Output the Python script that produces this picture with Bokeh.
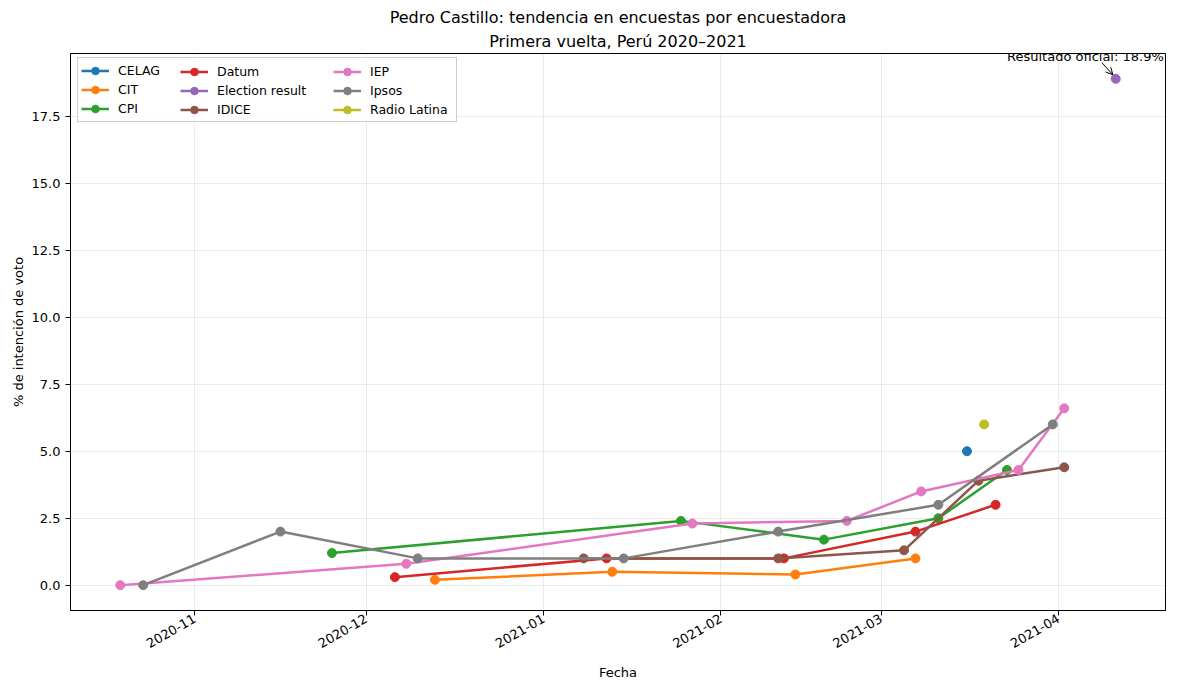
import datetime as dt
from bokeh.plotting import figure
from bokeh.models import (Range1d, Legend, LegendItem, DatetimeTickFormatter, MonthsTicker, Title,
                          SingleIntervalTicker, NumeralTickFormatter, Label, Arrow, OpenHead)
from bokeh.embed import file_html
from bokeh.resources import INLINE

D = dt.datetime

pollsters = ["CELAG", "CIT", "CPI", "Datum", "Election result", "IDICE", "IEP", "Ipsos", "Radio Latina"]
colors = ["#1f77b4", "#ff7f0e", "#2ca02c", "#d62728", "#9467bd", "#8c564b", "#e377c2", "#7f7f7f", "#bcbd22"]

celag_dates = [D(2021, 3, 16)]
celag_vals = [5.0]
cit_dates = [D(2020, 12, 13), D(2021, 1, 13), D(2021, 2, 14), D(2021, 3, 7)]
cit_vals = [0.2, 0.5, 0.4, 1.0]
cpi_dates = [D(2020, 11, 25), D(2021, 1, 25), D(2021, 2, 19), D(2021, 3, 11), D(2021, 3, 23)]
cpi_vals = [1.2, 2.4, 1.7, 2.5, 4.3]
datum_dates = [D(2020, 12, 6), D(2021, 1, 12), D(2021, 2, 12), D(2021, 3, 7), D(2021, 3, 21)]
datum_vals = [0.3, 1.0, 1.0, 2.0, 3.0]
election_dates = [D(2021, 4, 11)]
election_vals = [18.9]
idice_dates = [D(2021, 1, 8), D(2021, 2, 11), D(2021, 3, 5), D(2021, 3, 18), D(2021, 4, 2)]
idice_vals = [1.0, 1.0, 1.3, 3.9, 4.4]
iep_dates = [D(2020, 10, 19), D(2020, 12, 8), D(2021, 1, 27), D(2021, 2, 23), D(2021, 3, 8),
             D(2021, 3, 25), D(2021, 4, 2)]
iep_vals = [0.0, 0.8, 2.3, 2.4, 3.5, 4.3, 6.6]
ipsos_dates = [D(2020, 10, 23), D(2020, 11, 16), D(2020, 12, 10), D(2021, 1, 15), D(2021, 2, 11),
               D(2021, 3, 11), D(2021, 3, 31)]
ipsos_vals = [0.0, 2.0, 1.0, 1.0, 2.0, 3.0, 6.0]
radio_dates = [D(2021, 3, 19)]
radio_vals = [6.0]

series = [
    (celag_dates, celag_vals), (cit_dates, cit_vals), (cpi_dates, cpi_vals),
    (datum_dates, datum_vals), (election_dates, election_vals), (idice_dates, idice_vals),
    (iep_dates, iep_vals), (ipsos_dates, ipsos_vals), (radio_dates, radio_vals),
]

annot_text = "Resultado oficial: 18.9%"
title_line1 = "Pedro Castillo: tendencia en encuestas por encuestadora"
title_line2 = "Primera vuelta, Perú 2020\u20132021"

all_dates = [d for ds, _ in series for d in ds]
dmin, dmax = min(all_dates), max(all_dates)
span = dmax - dmin
all_vals = [v for _, vs in series for v in vs]
vmin, vmax = min(all_vals), max(all_vals)
vspan = vmax - vmin

FONT = "DejaVu Sans"
FRAME_W, FRAME_H = 1095, 557

p = figure(frame_width=FRAME_W, frame_height=FRAME_H, x_axis_type="datetime", output_backend="svg",
           toolbar_location=None,
           x_range=Range1d(dmin - span * 0.05, dmax + span * 0.05),
           y_range=Range1d(vmin - vspan * 0.05, vmax + vspan * 0.05),
           min_border_left=70, min_border_right=17, min_border_top=53, min_border_bottom=76)

p.title.text = title_line1
p.title.align = "center"
p.title.text_font = FONT
p.title.text_font_size = "16px"
p.title.text_font_style = "normal"
p.title.text_color = "black"
p.title.standoff = 1
p.add_layout(Title(text=title_line2, align="center", text_font=FONT, text_font_size="16px",
                   text_font_style="normal", text_color="black", standoff=5), "above")

p.outline_line_color = "black"
p.outline_line_width = 1
p.outline_line_alpha = 1

for ax in (p.xaxis[0], p.yaxis[0]):
    ax.axis_line_color = "black"
    ax.major_tick_line_color = "black"
    ax.major_tick_out = 5
    ax.major_tick_in = 0
    ax.minor_tick_line_color = None
    ax.major_label_text_font = FONT
    ax.major_label_text_font_size = "13px"
    ax.major_label_text_color = "black"
    ax.axis_label_text_font = FONT
    ax.axis_label_text_font_size = "13px"
    ax.axis_label_text_font_style = "normal"
    ax.axis_label_text_color = "black"

p.xaxis.ticker = MonthsTicker(months=list(range(1, 13)))
p.xaxis.formatter = DatetimeTickFormatter(months="%Y-%m", days="%Y-%m", years="%Y-%m")
p.xaxis.major_label_orientation = 0.5236
p.xaxis.major_label_standoff = 2
p.xaxis.axis_label_standoff = 10
p.xaxis.axis_label = "Fecha"
p.yaxis.ticker = SingleIntervalTicker(interval=2.5)
p.yaxis.formatter = NumeralTickFormatter(format="0.0")
p.yaxis.axis_label = "% de intención de voto"
p.yaxis.axis_label_standoff = 3

p.grid.grid_line_color = "#b0b0b0"
p.grid.grid_line_alpha = 0.3
p.grid.grid_line_width = 0.8

items = []
for name, col, (ds, vs) in zip(pollsters, colors, series):
    ln = p.line(ds, vs, line_color=col, line_width=2.5)
    sc = p.scatter(ds, vs, size=9, fill_color=col, line_color=col)
    items.append(LegendItem(label=name, renderers=[ln, sc]))

# legend: three columns of three, inside one framed box at the top left of the frame
PAD, BOX_H, ROW_H = 3, 63, 19
leg_style = dict(orientation="vertical", label_text_font=FONT, label_text_font_size="12.5px",
                 label_text_color="black",
                 glyph_width=28, glyph_height=ROW_H, label_height=ROW_H, spacing=0, padding=PAD,
                 margin=0, label_standoff=9)
glyph_x = [10, 110, 263]
box_bottom = FRAME_H - 6 - BOX_H
for ci in range(3):
    if ci == 0:
        extra = dict(border_line_color="#cccccc", border_line_alpha=1, background_fill_alpha=0.8,
                     label_width=335)
        loc = (glyph_x[ci] - PAD, box_bottom)
    else:
        # borderless legends drop their padding
        extra = dict(border_line_color=None, background_fill_color=None, label_width=20)
        loc = (glyph_x[ci], box_bottom + PAD)
    lg = Legend(items=items[ci * 3:ci * 3 + 3], location=loc, **leg_style, **extra)
    p.add_layout(lg, "center")

ex, ey = election_dates[0], election_vals[0]
lab = Label(x=ex - dt.timedelta(days=19.0), y=ey + 0.85, text=annot_text,
            text_font=FONT, text_font_size="13px", text_align="left",
            text_baseline="alphabetic", text_color="black")
p.add_layout(lab)
arr = Arrow(end=OpenHead(size=7, line_width=1), x_start=ex - dt.timedelta(days=2.4), y_start=ey + 0.6,
            x_end=ex - dt.timedelta(days=0.5), y_end=ey + 0.15, line_width=1, line_color="black")
p.add_layout(arr)

open("out.html", "w").write(file_html(p, INLINE))
